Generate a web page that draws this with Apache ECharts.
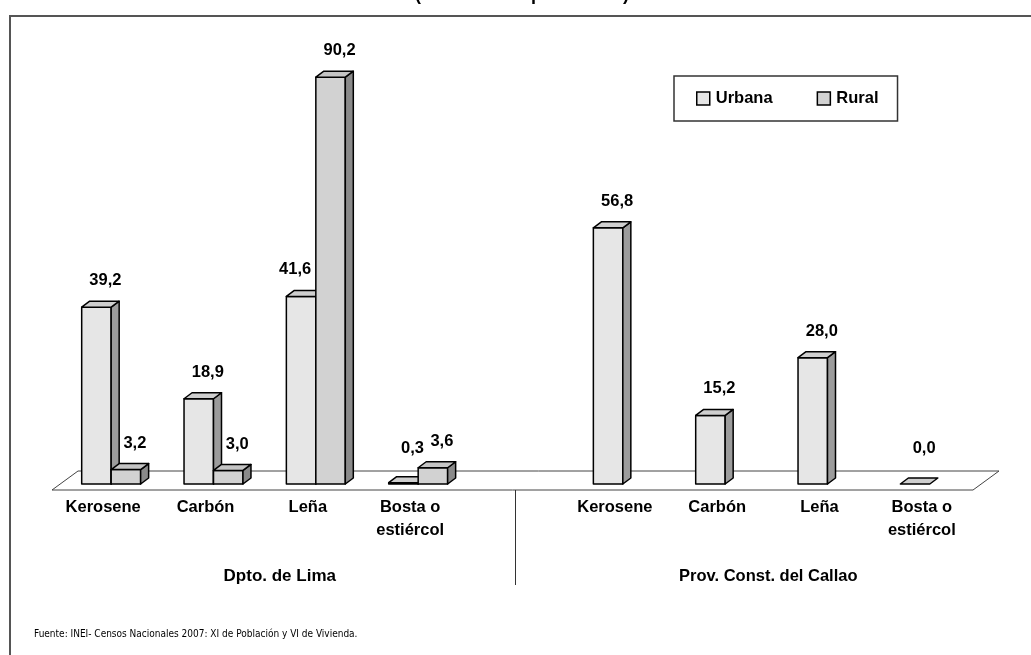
<!DOCTYPE html>
<html>
<head>
<meta charset="utf-8">
<script src="https://cdn.jsdelivr.net/npm/echarts@6/dist/echarts.min.js"></script>
<style>
  html, body { margin: 0; padding: 0; background: #fff; }
  #chart { width: 1031px; height: 655px; }
</style>
</head>
<body>
<div id="chart"></div>
<script>
// categorias (la posicion vacia separa Lima y Callao)
var categories = ['Kerosene', 'Carbón', 'Leña', 'Bosta o\nestiércol', '',
                  'Kerosene', 'Carbón', 'Leña', 'Bosta o\nestiércol'];
var urbana = [39.2, 18.9, 41.6, 0.3, null, 56.8, 15.2, 28.0, 0.0];
var rural  = [3.2, 3.0, 90.2, 3.6, null, null, null, null, null];
var groups = ['Dpto. de Lima', 'Prov. Const. del Callao'];
var seriesNames = ['Urbana', 'Rural'];

var FONT = '"Liberation Sans", Arial, sans-serif';
var SX = 8, SY = -6;       // desplazamiento 3D de las barras
var DX = 8, DY = -6;       // profundidad de la barra
var FLOOR_DX = 26, FLOOR_DY = -19;

var faces = [
  { front: '#E6E6E6', top: '#CFCFCF', side: '#9C9C9C' },
  { front: '#D2D2D2', top: '#C4C4C4', side: '#8A8A8A' }
];

function fmt(v) { return v.toFixed(1).replace('.', ','); }

// posicion del frente de la barra (serie idx) en pixeles
function barBox(api, idx, cat, v) {
  var base = api.coord([cat, 0]);
  var top = api.coord([cat, v]);
  var w = api.size([1, 0])[0] * 0.288;
  var x0 = base[0] + (idx === 0 ? -w : 0) + SX;
  return { x0: x0, x1: x0 + w, w: w, yb: base[1] + SY, yt: top[1] + SY };
}

function barRender(idx) {
  return function (params, api) {
    var cat = api.value(0), v = api.value(1);
    if (v == null || isNaN(v)) return;
    var b = barBox(api, idx, cat, v);
    var c = faces[idx];
    var st = { stroke: '#000', lineWidth: 1.5, lineJoin: 'round' };
    var children = [];
    if (b.yb - b.yt > 0.5) {
      children.push({ type: 'rect', shape: { x: b.x0, y: b.yt, width: b.w, height: b.yb - b.yt },
        style: Object.assign({ fill: c.front }, st) });
      children.push({ type: 'polygon', shape: { points: [[b.x1, b.yt], [b.x1 + DX, b.yt + DY], [b.x1 + DX, b.yb + DY], [b.x1, b.yb]] },
        style: Object.assign({ fill: c.side }, st) });
    }
    children.push({ type: 'polygon', shape: { points: [[b.x0, b.yt], [b.x0 + DX, b.yt + DY], [b.x1 + DX, b.yt + DY], [b.x1, b.yt]] },
      style: Object.assign({ fill: c.top }, st) });
    return { type: 'group', children: children };
  };
}

function labelRender(params, api) {
  var cat = api.value(0), v = api.value(1), idx = api.value(2);
  if (v == null || isNaN(v)) return;
  var b = barBox(api, idx, cat, v);
  // si la barra vecina (rural) es mas alta, la etiqueta se corre a la izquierda
  var dx = (idx === 0 && rural[cat] != null && rural[cat] > v + 5) ? -6 : 9;
  return { type: 'text', style: {
    text: fmt(v), x: b.x0 + b.w / 2 + dx, y: Math.min(b.yt - 18, 457),
    align: 'center', verticalAlign: 'bottom',
    font: 'bold 16.5px ' + FONT, fill: '#000' } };
}

function floorRender(params, api) {
  var cs = params.coordSys;
  var x = cs.x, yf = cs.y + cs.height, r = cs.x + cs.width;
  var mid = api.coord([4, 0])[0] + 3;
  return { type: 'group', children: [
    { type: 'polygon', shape: { points: [[x, yf], [r, yf], [r + FLOOR_DX, yf + FLOOR_DY], [x + FLOOR_DX, yf + FLOOR_DY]] },
      style: { fill: '#fff', stroke: '#444', lineWidth: 1 } },
    { type: 'line', shape: { x1: mid, y1: yf, x2: mid, y2: yf + 95 },
      style: { stroke: '#333', lineWidth: 1 } },
    { type: 'text', style: { text: groups[0], x: (x + mid) / 2 - 4, y: yf + 86,
      align: 'center', verticalAlign: 'middle', font: 'bold 17px ' + FONT, fill: '#000' } },
    { type: 'text', style: { text: groups[1], x: (mid + r) / 2 + 24, y: yf + 86,
      align: 'center', verticalAlign: 'middle', font: 'bold 16.5px ' + FONT, fill: '#000' } }
  ] };
}

var labelData = [];
urbana.forEach(function (v, i) { if (v != null) labelData.push([i, v, 0]); });
rural.forEach(function (v, i) { if (v != null) labelData.push([i, v, 1]); });

var chart = echarts.init(document.getElementById('chart'));
chart.setOption({
  animation: false,
  backgroundColor: '#fff',
  grid: { left: 52, right: 58, top: 39, bottom: 165 },
  legend: {
    data: seriesNames,
    left: 674, top: 76,
    orient: 'horizontal',
    padding: [14, 19, 14, 22],
    itemGap: 44,
    itemWidth: 13, itemHeight: 13,
    icon: 'rect',
    borderColor: '#333', borderWidth: 1.5,
    itemStyle: { borderColor: '#000', borderWidth: 1.5 },
    textStyle: { fontFamily: FONT, fontWeight: 'bold', fontSize: 16.5, color: '#000', padding: [0, 0, 0, 1] }
  },
  xAxis: {
    type: 'category',
    data: categories,
    axisLine: { show: false },
    axisTick: { show: false },
    axisLabel: { interval: 0, margin: 6, color: '#000', fontFamily: FONT, fontWeight: 'bold',
      fontSize: 16.5, lineHeight: 23 }
  },
  yAxis: { type: 'value', min: 0, max: 100, show: false, splitLine: { show: false } },
  graphic: [
    { type: 'polyline', shape: { points: [[10, 660], [10, 16], [1040, 16]] },
      style: { stroke: '#555', lineWidth: 2, fill: null } },
    { type: 'text', x: 522, y: 4, style: { text: '(Distribución porcentual)', align: 'center',
      verticalAlign: 'bottom', font: 'bold 18px ' + FONT, fill: '#000' } },
    { type: 'text', x: 34, y: 634, style: { text: 'Fuente: INEI- Censos Nacionales 2007: XI de Población y VI de Vivienda.',
      verticalAlign: 'middle', font: '10px "Liberation Sans Narrow", "DejaVu Sans Condensed", sans-serif', fill: '#000' } }
  ],
  series: [
    { type: 'custom', name: 'floor', renderItem: floorRender, data: [[0, 0]], z: 1, silent: true },
    { type: 'custom', name: seriesNames[0], renderItem: barRender(0), itemStyle: { color: faces[0].front },
      data: urbana.map(function (v, i) { return [i, v]; }), z: 2 },
    { type: 'custom', name: seriesNames[1], renderItem: barRender(1), itemStyle: { color: faces[1].front },
      data: rural.map(function (v, i) { return [i, v]; }), z: 3 },
    { type: 'custom', name: 'etiquetas', renderItem: labelRender, data: labelData, z: 4, silent: true }
  ]
});
</script>
</body>
</html>
